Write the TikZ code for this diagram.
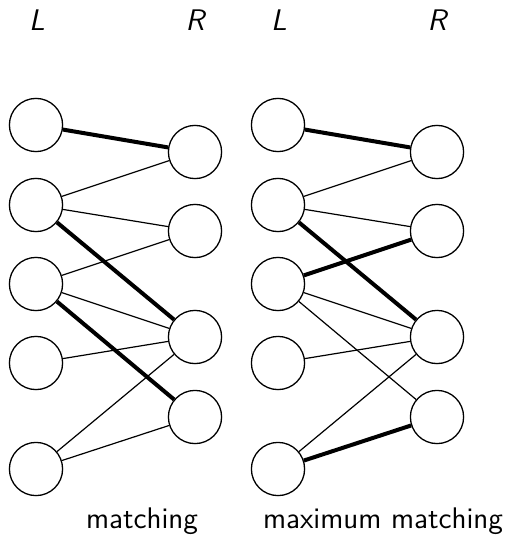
\documentclass[tikz,border=0pt]{standalone}
\usepackage{fontspec}
\begin{document}
\begin{tikzpicture}[x=0.5pt,y=-0.5pt,
  vtx/.style={circle,draw,line width=0.65pt,minimum size=26.6pt,inner sep=0pt},
  plainedge/.style={line width=0.6pt},
  matchedge/.style={line width=2pt},
  sidelbl/.style={font=\fontsize{14.9}{16}\selectfont\sffamily\itshape,inner sep=0pt},
  captxt/.style={font=\fontsize{14.9}{16}\selectfont\sffamily,inner sep=0pt}]
\useasboundingbox (0,0) rectangle (507,535);
% left graph
\node[sidelbl] (la) at (37,20) {L};
\node[sidelbl] (ra) at (195,20) {R};
\node[vtx] (a1) at (36,125) {};
\node[vtx] (a2) at (36,205) {};
\node[vtx] (a3) at (36,284) {};
\node[vtx] (a4) at (36,363) {};
\node[vtx] (a5) at (36,469) {};
\node[vtx] (b1) at (195,152) {};
\node[vtx] (b2) at (195,231) {};
\node[vtx] (b3) at (195,337) {};
\node[vtx] (b4) at (195,417) {};
\draw[matchedge] (a1) -- (b1);
\draw[plainedge] (a2) -- (b1);
\draw[plainedge] (a2) -- (b2);
\draw[matchedge] (a2) -- (b3);
\draw[plainedge] (a3) -- (b2);
\draw[plainedge] (a3) -- (b3);
\draw[matchedge] (a3) -- (b4);
\draw[plainedge] (a4) -- (b3);
\draw[plainedge] (a5) -- (b3);
\draw[plainedge] (a5) -- (b4);
\node[captxt,anchor=base] (ca) at (142,528) {matching};
% right graph
\node[sidelbl] (lb) at (279,20) {L};
\node[sidelbl] (rb) at (437,20) {R};
\node[vtx] (c1) at (278,125) {};
\node[vtx] (c2) at (278,205) {};
\node[vtx] (c3) at (278,284) {};
\node[vtx] (c4) at (278,363) {};
\node[vtx] (c5) at (278,469) {};
\node[vtx] (d1) at (437,152) {};
\node[vtx] (d2) at (437,231) {};
\node[vtx] (d3) at (437,337) {};
\node[vtx] (d4) at (437,417) {};
\draw[matchedge] (c1) -- (d1);
\draw[plainedge] (c2) -- (d1);
\draw[plainedge] (c2) -- (d2);
\draw[matchedge] (c2) -- (d3);
\draw[matchedge] (c3) -- (d2);
\draw[plainedge] (c3) -- (d3);
\draw[plainedge] (c3) -- (d4);
\draw[plainedge] (c4) -- (d3);
\draw[plainedge] (c5) -- (d3);
\draw[matchedge] (c5) -- (d4);
\node[captxt,anchor=base] (cb) at (383,528) {maximum matching};
\end{tikzpicture}
\end{document}
